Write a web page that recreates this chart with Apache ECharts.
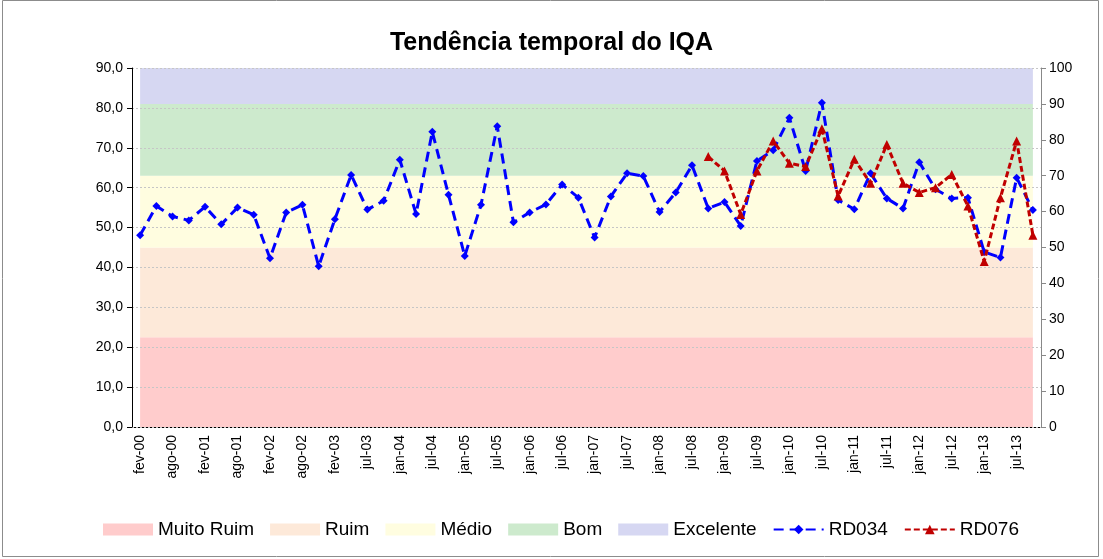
<!DOCTYPE html>
<html>
<head>
<meta charset="utf-8">
<style>
  html, body { margin: 0; padding: 0; background: #fff; }
  #main { width: 1103px; height: 559px; }
</style>
<script src="https://cdn.jsdelivr.net/npm/echarts@6/dist/echarts.min.js"></script>
</head>
<body>
<div id="main"></div>
<script>
// quarterly samples, label shown on every other one
var categories = [
  'fev-00', 'mai-00', 'ago-00', 'nov-00', 'fev-01', 'mai-01', 'ago-01', 'nov-01',
  'fev-02', 'mai-02', 'ago-02', 'nov-02', 'fev-03', 'abr-03', 'jul-03', 'out-03',
  'jan-04', 'abr-04', 'jul-04', 'out-04', 'jan-05', 'abr-05', 'jul-05', 'out-05',
  'jan-06', 'abr-06', 'jul-06', 'out-06', 'jan-07', 'abr-07', 'jul-07', 'out-07',
  'jan-08', 'abr-08', 'jul-08', 'out-08', 'jan-09', 'abr-09', 'jul-09', 'out-09',
  'jan-10', 'abr-10', 'jul-10', 'out-10', 'jan-11', 'abr-11', 'jul-11', 'out-11',
  'jan-12', 'abr-12', 'jul-12', 'out-12', 'jan-13', 'abr-13', 'jul-13', 'out-13'
]

var rd034 = [
  48.1, 55.4, 52.8, 51.8, 55.2, 50.8, 55.0, 53.2, 42.3, 53.8,
  55.7, 40.3, 52.1, 63.2, 54.5, 56.7, 67.0, 53.4, 74.0, 58.2,
  42.9, 55.7, 75.4, 51.3, 53.8, 55.8, 60.8, 57.5, 47.5, 57.8,
  63.6, 62.9, 53.9, 58.8, 65.6, 54.8, 56.4, 50.4, 66.7, 69.4,
  77.5, 64.2, 81.3, 56.9, 54.6, 63.6, 57.3, 54.8, 66.4, 59.6,
  57.3, 57.5, 43.9, 42.5, 62.5, 54.4
]

var rd076 = [
  null, null, null, null, null, null, null, null, null, null,
  null, null, null, null, null, null, null, null, null, null,
  null, null, null, null, null, null, null, null, null, null,
  null, null, null, null, null, 67.8, 64.2, 53.3, 64.2, 71.7,
  66.1, 65.3, 74.8, 57.9, 67.1, 61.1, 70.8, 61.1, 58.8, 60.0,
  63.3, 55.4, 41.5, 57.5, 71.7, 48.1
]

// IQA classes, upper limit on the 0-100 scale (right axis)
var bandNames = ['Muito Ruim', 'Ruim', 'Médio', 'Bom', 'Excelente']
var bandTops = [25, 50, 70, 90, 100]
var bandColors = ['#ffcccc', '#fde9d9', '#fffde0', '#cdeacd', '#d6d7f2']

var font = 'Liberation Sans, Arial, sans-serif'

var bandSeries = bandNames.map(function (name, i) {
  var thick = bandTops[i] - (i ? bandTops[i - 1] : 0)
  return {
    name: name,
    type: 'line',
    yAxisIndex: 1,
    stack: 'bands',
    symbol: 'none',
    silent: true,
    z: 1,
    color: bandColors[i],
    lineStyle: { width: 0 },
    areaStyle: { color: bandColors[i], opacity: 1 },
    data: categories.map(function () { return thick })
  }
})

var chart = echarts.init(document.getElementById('main'), null, { renderer: 'canvas' })

chart.setOption({
  animation: false,
  backgroundColor: '#fff',
  title: {
    text: 'Tendência temporal do IQA',
    left: 'center',
    top: 26,
    textStyle: { fontFamily: font, fontSize: 25, fontWeight: 'bold', color: '#000' }
  },
  grid: { left: 132, right: 62, top: 68, bottom: 132 },
  legend: {
    left: 98,
    top: 515,
    itemWidth: 50,
    itemHeight: 12,
    itemGap: 16,
    textStyle: { fontFamily: font, fontSize: 19, color: '#000' },
    data: bandNames.map(function (n) { return { name: n, icon: 'rect' } }).concat(['RD034', 'RD076'])
  },
  xAxis: {
    type: 'category',
    data: categories,
    boundaryGap: true,
    axisLine: { lineStyle: { color: '#000', width: 1 } },
    axisTick: { interval: 0, length: 5, lineStyle: { color: '#000' } },
    axisLabel: { interval: 1, rotate: 90, fontFamily: font, fontSize: 14, color: '#000', margin: 8 },
    splitLine: { show: false }
  },
  yAxis: [
    {
      type: 'value',
      min: 0, max: 90, interval: 10,
      z: 2,
      axisLine: { show: true, lineStyle: { color: '#000' } },
      axisTick: { show: true, length: 5, lineStyle: { color: '#000' } },
      axisLabel: {
        fontFamily: font, fontSize: 14, color: '#000', margin: 9,
        formatter: function (v) { return v.toFixed(1).replace('.', ',') }
      },
      splitLine: { show: true, lineStyle: { color: '#c6c6c6', type: [2, 2], width: 1 } }
    },
    {
      type: 'value',
      min: 0, max: 100, interval: 10,
      position: 'right',
      axisLine: { show: true, lineStyle: { color: '#888' } },
      axisTick: { show: true, length: 5, lineStyle: { color: '#888' } },
      axisLabel: { fontFamily: font, fontSize: 14, color: '#000', margin: 8 },
      splitLine: { show: false }
    }
  ],
  series: bandSeries.concat([
    {
      name: 'RD034',
      type: 'line',
      yAxisIndex: 0,
      z: 4,
      color: '#0000ff',
      symbol: 'diamond',
      symbolSize: 8,
      itemStyle: { color: '#0000ff' },
      lineStyle: { color: '#0000ff', width: 3, type: [10, 6] },
      data: rd034
    },
    {
      name: 'RD076',
      type: 'line',
      yAxisIndex: 0,
      z: 5,
      color: '#c00000',
      symbol: 'triangle',
      symbolSize: 9,
      connectNulls: false,
      itemStyle: { color: '#c00000' },
      lineStyle: { color: '#c00000', width: 3, type: [6, 3] },
      data: rd076
    }
  ]),
  graphic: [{
    type: 'rect',
    shape: { x: 2.5, y: 0.5, width: 1096, height: 556 },
    style: { fill: null, stroke: '#8c8c8c', lineWidth: 1 },
    silent: true
  }]
})
</script>
</body>
</html>
